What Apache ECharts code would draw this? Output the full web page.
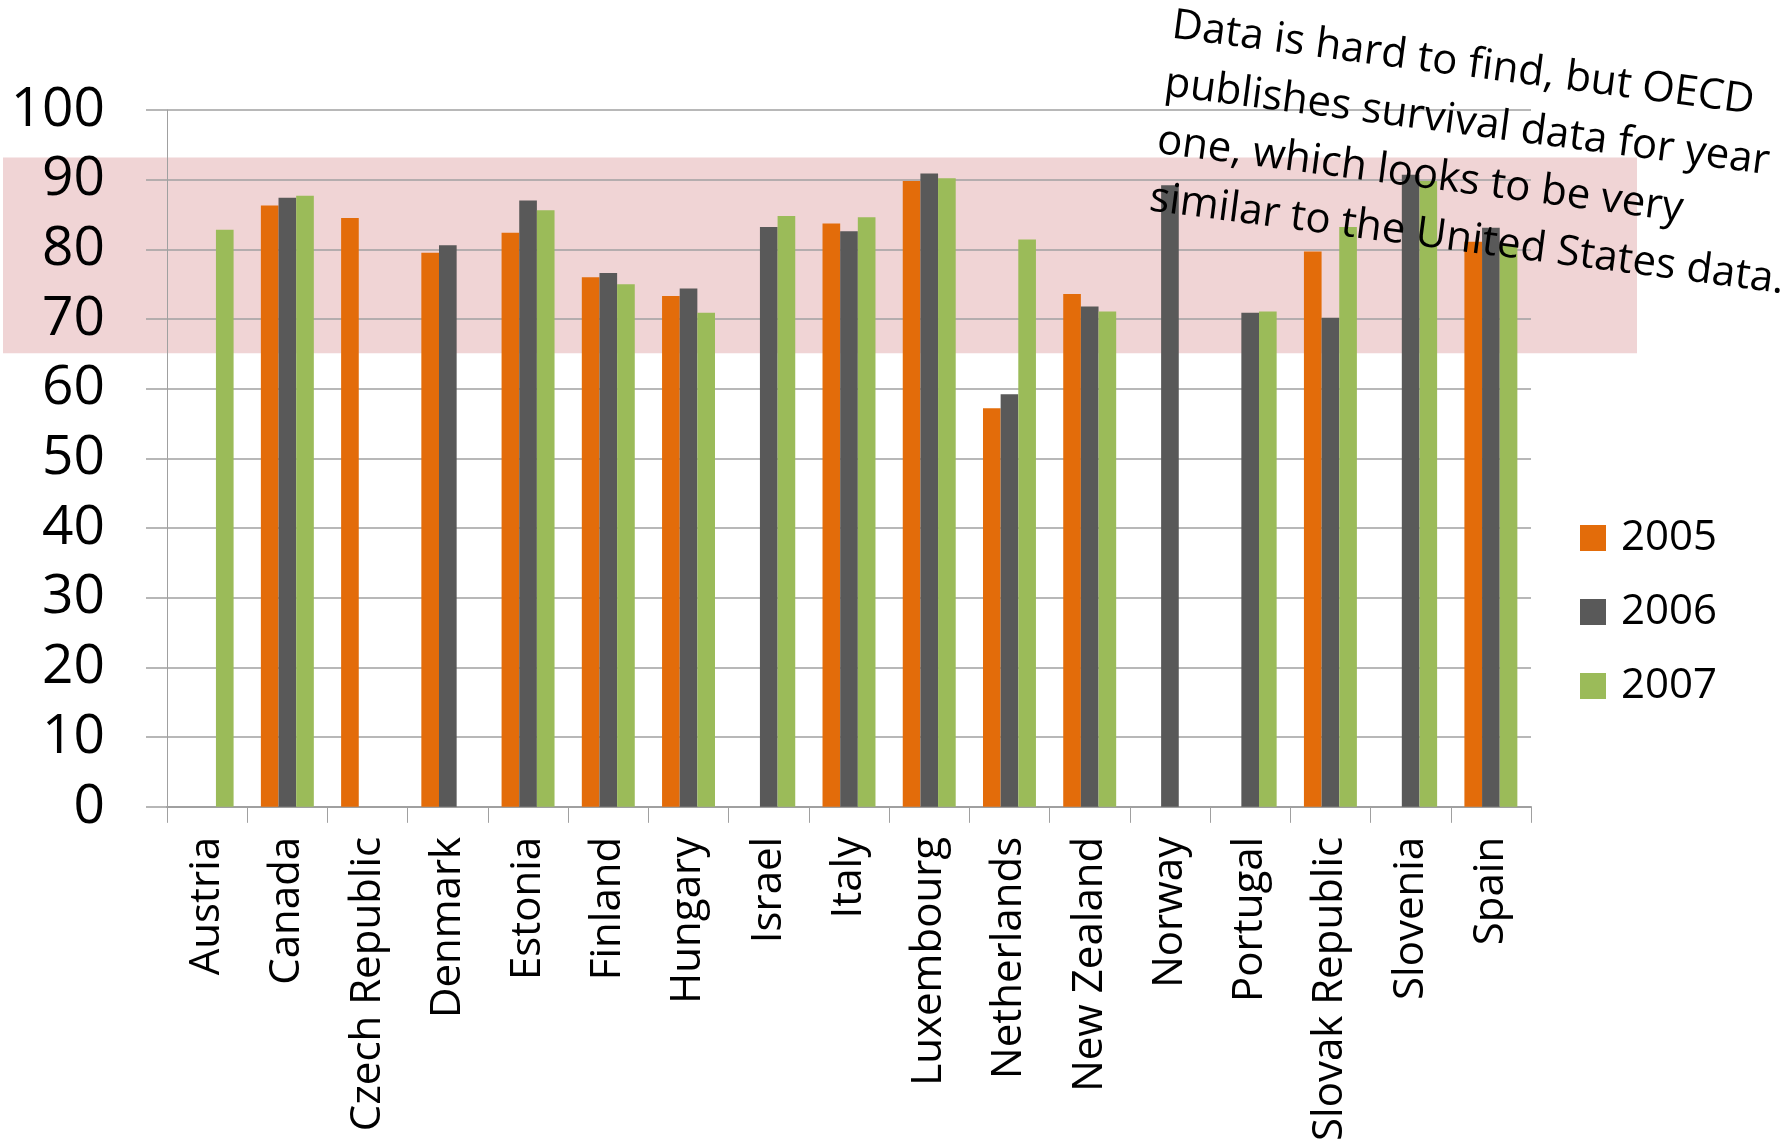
<!DOCTYPE html>
<html>
<head>
<meta charset="utf-8">
<script src="https://cdn.jsdelivr.net/npm/echarts@6/dist/echarts.min.js"></script>
<style>
  html, body { margin: 0; padding: 0; background: #fff; }
  #chart { width: 1792px; height: 1144px; }
</style>
</head>
<body>
<div id="chart"></div>
<script>
const categories = [
  "Austria", "Canada", "Czech Republic", "Denmark", "Estonia", "Finland",
  "Hungary", "Israel", "Italy", "Luxembourg", "Netherlands", "New Zealand",
  "Norway", "Portugal", "Slovak Republic", "Slovenia", "Spain"
];
const seriesNames = ["2005", "2006", "2007"];
const values2005 = [null, 86.3, 84.5, 79.5, 82.4, 76.0, 73.3, null, 83.7, 89.8, 57.2, 73.6, null, null, 79.7, null, 81.1];
const values2006 = [null, 87.4, null, 80.6, 87.0, 76.6, 74.4, 83.2, 82.6, 90.9, 59.2, 71.8, 89.2, 70.9, 70.2, 90.7, 83.1];
const values2007 = [82.8, 87.7, null, null, 85.6, 75.0, 70.9, 84.8, 84.6, 90.2, 81.4, 71.1, null, 71.1, 83.2, 89.8, 80.7];
const yTicks = { min: 0, max: 100, interval: 10 };
const bandRange = [65.1, 93.2];
const note = "Data is hard to find, but OECD\npublishes survival data for year\none, which looks to be very\nsimilar to the United States data.";

const colors = ["#E36C0A", "#595959", "#9BBB59"];
const font = "'Open Sans', 'Noto Sans', sans-serif";
const axisGray = "#a0a0a0";

const chart = echarts.init(document.getElementById("chart"));

const makeSeries = (name, data, i) => ({
  name,
  type: "bar",
  data,
  barGap: "0%",
  barCategoryGap: "34%",
  itemStyle: { color: colors[i] },
  z: 3,
});

const option = {
  backgroundColor: "#ffffff",
  animation: false,
  grid: { left: 167, right: 261, top: 110, bottom: 327 },
  legend: {
    orient: "vertical",
    left: 1575,
    top: 512,
    icon: "rect",
    itemWidth: 26,
    itemHeight: 26,
    itemGap: 32,
    data: seriesNames,
    textStyle: {
      fontFamily: font,
      fontSize: 42,
      lineHeight: 26,
      color: "#000",
      padding: [0, 0, 0, 10],
    },
  },
  xAxis: {
    type: "category",
    data: categories,
    axisLine: { lineStyle: { color: axisGray, width: 2 } },
    axisTick: { show: true, length: 16, lineStyle: { color: axisGray, width: 1 } },
    axisLabel: {
      rotate: 90,
      interval: 0,
      margin: 30,
      fontFamily: font,
      fontSize: 42,
      color: "#000",
    },
  },
  yAxis: {
    type: "value",
    min: yTicks.min,
    max: yTicks.max,
    interval: yTicks.interval,
    axisLine: { show: true, lineStyle: { color: axisGray, width: 1 } },
    axisTick: { show: true, length: 21, lineStyle: { color: axisGray, width: 1.5 } },
    splitLine: { lineStyle: { color: axisGray, width: 1.5 } },
    axisLabel: {
      margin: 62,
      fontFamily: font,
      fontSize: 55,
      color: "#000",
    },
  },
  series: [
    makeSeries(seriesNames[0], values2005, 0),
    makeSeries(seriesNames[1], values2006, 1),
    makeSeries(seriesNames[2], values2007, 2),
  ],
};

chart.setOption(option);

// pink highlight band + the rotated note
const bandTop = chart.convertToPixel({ yAxisIndex: 0 }, bandRange[1]);
const bandBottom = chart.convertToPixel({ yAxisIndex: 0 }, bandRange[0]);

chart.setOption({
  graphic: [
    {
      type: "rect",
      z: -10,
      silent: true,
      shape: { x: 3, y: bandTop, width: 1634, height: bandBottom - bandTop },
      style: { fill: "#f0d4d5" },
    },
    {
      type: "text",
      z: 100,
      x: 1176,
      y: -3,
      rotation: -0.13,
      style: {
        text: note,
        fontFamily: font,
        fontSize: 42,
        lineHeight: 58,
        fill: "#000",
        textAlign: "left",
        textVerticalAlign: "top",
      },
    },
  ],
});
</script>
</body>
</html>
